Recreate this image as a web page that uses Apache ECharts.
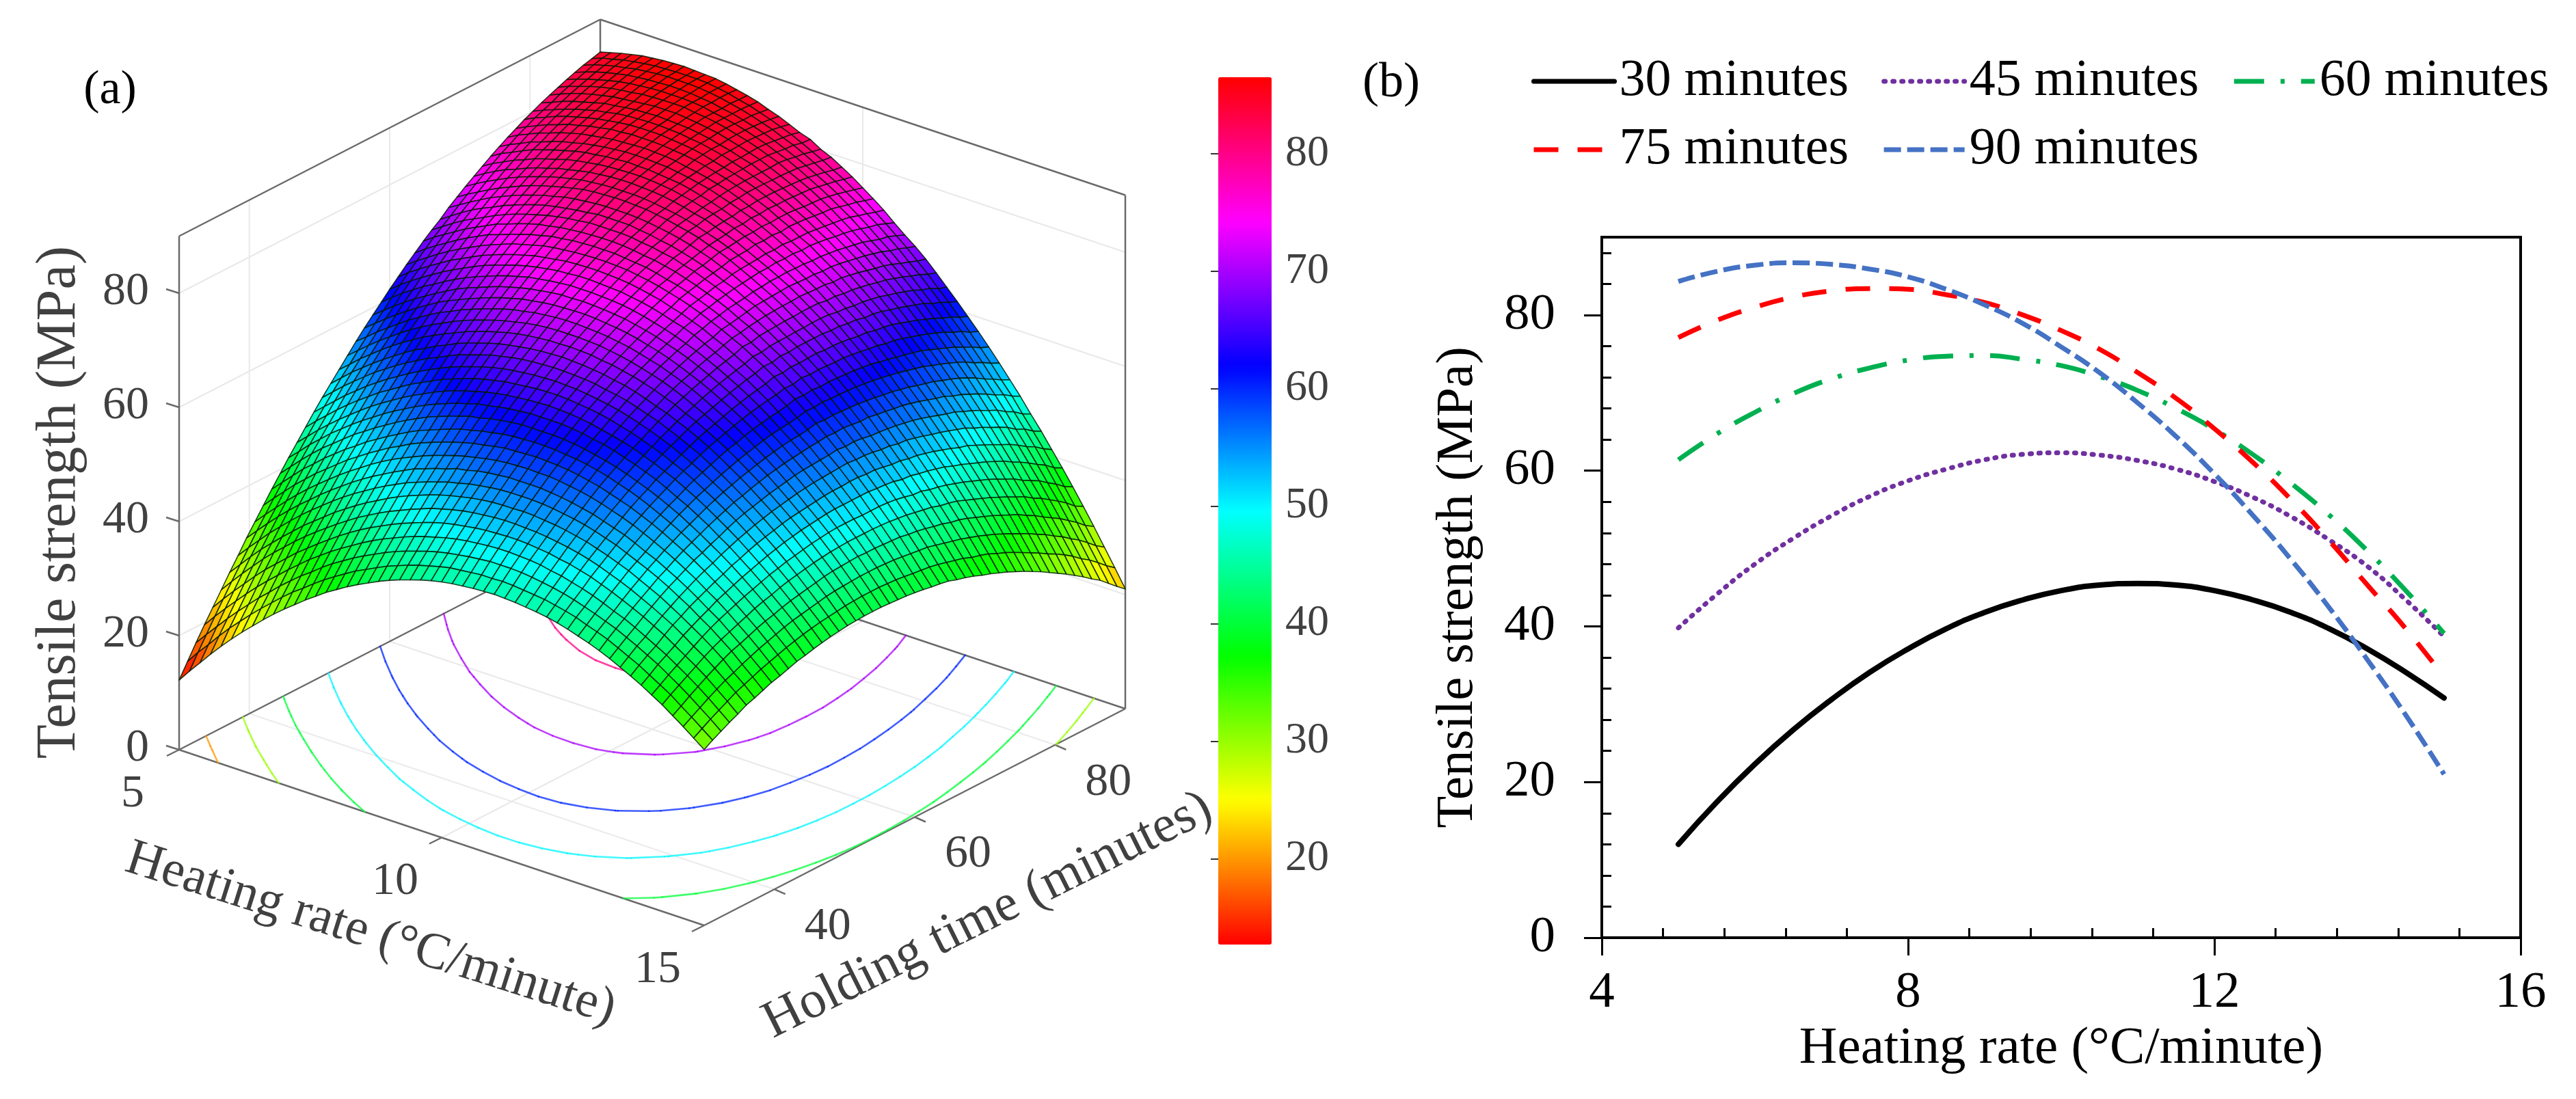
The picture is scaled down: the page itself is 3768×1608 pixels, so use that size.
<!DOCTYPE html>
<html><head><meta charset="utf-8">
<style>html,body{margin:0;padding:0;background:#fff}#c{width:3768px;height:1608px}</style>
<script src="https://cdn.jsdelivr.net/npm/echarts@6/dist/echarts.min.js"></script>
</head><body><div id="c"></div>
<script>
// ---------- panel (a) data: surface, in tenths of a MPa ----------
const surfaceHeating = [5,5.2,5.4,5.6,5.8,6,6.2,6.4,6.6,6.8,7,7.2,7.4,7.6,7.8,8,8.2,8.4,8.6,8.8,9,9.2,9.4,9.6,9.8,10,10.2,10.4,10.6,10.8,11,11.2,11.4,11.6,11.8,12,12.2,12.4,12.6,12.8,13,13.2,13.4,13.6,13.8,14,14.2,14.4,14.6,14.8,15];
const surfaceHolding = [30,31.2,32.4,33.6,34.8,36,37.2,38.4,39.6,40.8,42,43.2,44.4,45.6,46.8,48,49.2,50.4,51.6,52.8,54,55.2,56.4,57.6,58.8,60,61.2,62.4,63.6,64.8,66,67.2,68.4,69.6,70.8,72,73.2,74.4,75.6,76.8,78,79.2,80.4,81.6,82.8,84,85.2,86.4,87.6,88.8,90];
const surfaceStrengthTenths = [
[122,144,165,186,206,225,243,260,277,293,308,322,336,349,362,373,384,394,403,412,420,427,433,439,444,448,451,453,455,456,457,456,455,453,451,448,444,439,433,427,420,412,403,394,384,373,362,349,336,322,308],
[147,169,189,210,230,248,266,283,299,315,330,343,357,370,382,393,404,413,422,431,438,445,451,456,461,465,467,469,471,471,472,471,469,467,465,461,457,452,445,439,432,423,414,405,394,383,372,358,345,331,317],
[172,193,213,233,252,270,288,304,321,336,351,364,378,391,402,413,423,432,441,449,456,462,468,473,477,480,483,485,487,487,487,486,484,481,478,474,469,463,457,450,443,434,425,415,405,393,381,368,354,340,325],
[196,217,237,256,275,293,310,326,342,357,372,385,398,410,421,432,442,451,459,467,474,480,485,490,494,497,499,501,502,502,501,500,498,494,491,486,481,475,468,460,453,444,434,424,414,402,390,377,363,348,333],
[219,240,260,279,298,316,332,348,364,378,392,405,418,430,441,451,460,469,477,484,491,497,502,506,509,512,514,515,516,516,515,513,511,507,504,499,494,487,480,472,464,455,445,435,423,411,399,386,371,356,340],
[242,263,283,302,321,338,354,370,385,399,412,425,437,449,459,469,478,486,494,501,508,513,518,522,525,527,529,530,530,529,528,526,523,520,516,511,505,498,491,483,474,465,455,445,433,420,408,394,379,364,348],
[265,285,305,324,341,358,374,390,404,418,432,444,456,467,477,487,496,504,511,518,524,529,533,537,540,542,543,543,544,543,541,539,536,532,528,522,516,509,502,493,484,475,464,453,441,429,416,402,385,370,353],
[287,307,326,345,362,379,395,410,424,438,451,463,474,485,495,504,513,520,527,533,539,543,548,551,554,556,557,557,557,556,554,551,548,544,539,533,527,519,511,503,494,484,473,462,449,437,423,409,392,376,359],
[310,329,348,366,383,399,414,429,443,456,469,481,492,502,512,521,530,536,543,548,555,558,563,566,568,570,570,570,570,568,566,563,559,555,549,543,537,529,520,512,502,492,481,469,456,444,429,414,398,382,365],
[331,350,368,386,403,419,434,448,462,475,487,499,510,520,529,537,545,552,558,564,569,573,577,580,582,583,584,583,583,581,578,575,571,566,560,554,547,539,530,521,511,500,489,476,464,450,435,420,404,387,369],
[352,371,389,407,423,439,453,467,481,493,505,516,527,536,546,554,561,568,574,579,584,587,591,594,595,596,597,596,595,593,590,586,582,576,570,564,556,548,539,529,519,508,496,483,470,456,441,426,409,392,374],
[373,391,409,427,442,458,472,486,498,511,522,533,543,553,562,569,576,583,589,593,598,601,605,607,608,609,609,608,606,604,601,597,592,586,580,573,565,556,547,537,526,514,502,489,476,462,447,431,414,397,379],
[393,411,429,446,462,476,490,504,516,528,539,550,560,569,578,585,592,598,604,607,612,615,618,620,620,620,620,619,617,614,610,606,601,595,588,581,573,564,555,544,533,521,509,496,482,467,452,435,419,401,382],
[413,430,448,464,480,494,508,521,533,545,556,566,576,585,593,600,607,612,618,621,625,628,630,632,632,632,632,630,628,624,621,616,610,604,597,590,581,571,562,551,540,527,515,501,487,472,456,440,423,405,386],
[432,449,466,482,497,511,525,538,550,561,572,582,591,600,608,615,621,626,631,635,638,640,642,643,644,643,642,640,637,633,629,624,619,612,605,597,589,579,569,558,546,534,521,507,492,477,461,444,426,408,389],
[451,468,484,500,515,529,542,555,566,577,588,597,606,615,622,629,635,640,644,648,650,652,654,655,655,654,652,650,647,643,638,633,627,620,613,604,596,586,575,564,552,540,526,512,497,481,465,447,429,411,392],
[470,486,502,518,532,546,559,571,582,593,603,612,621,629,636,642,648,653,657,660,662,664,665,666,665,664,662,659,656,652,647,641,635,628,620,611,602,592,581,570,558,545,531,516,501,485,468,450,432,413,394],
[488,504,520,535,549,563,575,587,598,608,618,626,635,643,649,655,661,665,669,672,674,675,676,676,675,674,672,668,665,661,655,649,643,635,627,618,609,598,587,575,562,549,535,520,505,488,471,453,435,415,396],
[505,521,537,551,565,578,590,602,613,622,632,640,649,656,662,668,673,677,680,683,685,686,687,686,685,683,681,677,674,669,663,656,650,642,634,625,615,604,592,580,567,553,539,524,508,491,474,456,437,417,397],
[522,537,553,567,581,594,606,617,628,637,646,654,662,669,675,680,685,689,692,694,696,696,697,696,695,692,690,686,682,677,671,664,657,648,640,630,620,609,597,584,571,557,542,527,511,494,476,458,438,418,398],
[539,554,569,583,596,609,621,632,642,651,660,668,675,681,687,692,696,700,703,705,706,706,706,705,704,701,698,694,689,684,678,671,663,654,645,635,625,613,601,588,575,560,545,529,513,496,478,459,439,419,398],
[556,570,585,598,611,624,635,646,656,664,673,680,687,693,699,704,707,711,713,715,716,716,715,714,712,709,706,701,696,691,684,677,669,660,650,640,630,618,605,592,578,563,548,531,515,498,479,460,440,419,398],
[572,586,600,613,626,638,649,660,669,677,685,692,699,705,710,715,718,721,723,724,725,725,724,722,720,717,713,708,703,697,690,682,674,665,655,645,634,622,609,595,581,566,550,533,517,499,480,461,440,419,397],
[587,601,615,628,640,651,662,672,682,690,697,704,711,716,721,725,728,731,733,733,734,733,732,730,728,724,720,715,709,703,696,688,679,670,660,649,638,625,612,598,583,568,552,535,518,499,480,460,440,418,396],
[602,616,630,642,654,664,675,685,694,702,709,716,722,727,732,735,738,740,742,742,742,741,740,738,735,731,726,721,715,708,701,693,684,674,664,653,641,628,614,600,585,569,553,536,518,499,480,460,439,417,395],
[617,631,644,656,667,678,688,697,706,714,721,727,733,738,742,745,748,749,751,751,750,749,748,745,742,738,733,727,722,715,706,697,688,678,668,656,644,630,616,601,587,570,554,536,518,498,480,459,438,415,393],
[631,645,657,669,680,691,700,709,718,725,732,738,743,748,751,754,757,758,759,759,758,757,755,752,748,744,738,733,726,719,710,702,692,682,671,659,646,633,618,603,588,571,555,537,518,498,479,458,436,413,391],
[645,658,670,682,693,703,712,721,729,736,743,748,753,758,761,763,765,766,767,767,766,765,762,759,755,750,745,739,732,724,716,707,698,687,676,664,650,637,622,607,590,573,556,537,518,498,478,457,434,411,388],
[658,671,683,694,705,715,724,733,739,746,752,758,762,767,769,772,773,774,774,774,772,770,768,764,759,755,749,742,735,727,718,709,698,687,675,663,649,636,621,605,589,571,554,535,516,497,476,454,432,409,386],
[671,684,695,706,717,726,735,744,750,757,763,768,771,775,777,779,780,781,781,780,778,775,773,769,765,759,753,746,739,731,721,712,702,690,679,666,653,638,623,606,590,572,554,535,515,495,474,452,430,406,383],
[683,695,707,718,727,736,745,753,760,766,771,776,780,783,785,788,788,788,788,787,784,782,778,775,769,764,757,750,742,733,724,714,703,691,678,665,651,636,621,605,588,570,552,532,513,492,471,449,426,402,378],
[694,706,718,729,738,746,755,762,769,775,780,784,787,790,792,795,795,795,795,792,790,786,783,778,773,767,760,752,745,735,727,716,704,691,680,666,652,637,621,604,586,567,549,529,509,488,468,445,422,398,374],
[707,718,729,739,749,757,765,772,778,784,788,793,796,798,800,801,801,801,800,798,795,792,788,783,777,771,763,756,747,738,728,717,705,692,680,667,651,636,620,603,586,566,548,528,508,487,465,442,418,394,369],
[718,729,739,749,758,766,774,781,787,792,797,801,805,807,808,809,809,808,807,804,801,797,793,788,781,775,767,758,749,739,729,718,705,692,680,665,650,635,619,601,583,564,544,524,504,482,460,437,414,388,363],
[729,740,750,759,768,776,783,789,795,800,804,808,810,812,813,813,813,812,810,807,804,800,795,789,783,776,768,759,751,741,730,718,706,693,680,665,650,634,617,599,581,562,543,522,501,479,457,434,409,384,358],
[739,750,760,769,776,784,791,796,802,806,810,814,816,818,819,819,818,817,815,812,808,803,799,792,785,778,769,760,751,741,731,719,706,693,678,664,648,632,615,596,578,559,539,518,497,475,453,429,404,379,352],
[749,760,769,778,785,793,799,804,810,814,817,820,822,823,824,824,823,821,819,815,811,806,801,794,788,780,772,762,753,742,730,718,706,692,678,662,646,630,612,594,576,556,535,514,493,470,447,423,398,372,346],
[759,770,778,787,795,801,807,812,817,821,823,826,827,829,828,828,826,824,822,818,813,808,802,795,788,780,771,761,752,741,729,717,703,689,675,659,643,626,609,590,572,552,530,509,487,465,441,417,392,366,339],
[768,778,786,795,801,808,814,818,823,826,829,831,833,833,833,832,831,828,825,821,817,811,805,798,791,782,773,763,753,741,729,717,703,688,674,658,641,623,606,587,568,547,526,504,482,459,435,411,385,359,332],
[777,787,795,803,809,816,821,826,829,832,835,836,837,838,837,836,834,830,827,823,818,813,806,798,790,781,771,761,751,739,727,714,700,685,670,654,637,619,602,582,563,542,521,498,476,453,429,404,378,351,324],
[785,794,802,810,816,823,827,832,835,839,840,842,842,842,841,839,837,834,830,825,820,814,808,800,792,782,773,761,752,739,727,714,699,684,669,652,635,616,598,578,558,537,516,494,470,447,422,397,370,343,316],
[793,802,809,817,823,828,833,837,840,843,845,846,846,846,844,842,840,836,831,826,821,815,808,800,791,782,772,761,750,737,725,711,696,681,666,649,631,612,594,574,554,533,511,487,464,440,415,390,363,335,307],
[800,808,815,822,828,833,838,841,845,847,848,849,849,848,847,844,842,838,834,828,822,815,808,800,791,781,771,759,748,735,722,708,693,678,661,644,626,608,588,568,547,526,503,480,457,432,407,381,354,326,298],
[807,814,822,828,833,838,843,845,848,850,851,852,851,850,849,846,843,838,834,828,823,815,807,799,790,779,769,757,745,732,719,704,689,673,657,639,621,602,583,563,542,520,497,473,450,425,400,373,346,318,289],
[813,821,828,834,839,843,847,849,851,853,855,855,855,853,851,848,845,840,835,829,823,815,807,798,789,778,767,755,743,729,716,700,686,669,652,634,616,596,577,557,535,513,489,465,441,415,390,363,336,309,279],
[819,827,833,839,844,848,851,853,856,857,858,858,858,855,853,850,846,841,836,830,823,816,806,797,788,777,766,753,740,726,712,697,681,664,647,628,610,590,571,550,528,505,482,458,433,407,382,354,327,299,269],
[825,832,838,843,848,852,855,857,859,860,860,860,859,857,853,850,846,841,835,829,821,814,805,795,785,774,762,750,736,721,708,692,676,659,642,622,604,584,564,542,520,498,474,449,424,399,372,345,316,287,258],
[830,837,843,848,852,856,858,860,861,862,862,861,859,857,853,850,845,840,834,827,819,811,802,792,782,771,758,745,731,716,702,686,670,652,634,615,596,576,555,533,511,488,463,439,414,388,362,334,306,277,248],
[835,842,847,852,855,859,861,863,864,864,864,863,861,858,854,850,845,839,833,825,818,809,799,789,779,767,755,741,728,713,698,681,665,647,629,609,590,569,548,525,504,480,456,431,405,378,351,323,294,265,235],
[839,846,850,855,858,861,863,864,865,865,865,864,861,858,853,849,843,837,830,823,814,805,796,785,775,763,750,736,722,707,692,675,658,639,621,601,581,560,539,516,494,469,445,420,393,366,338,310,281,252,222],
[843,848,853,857,861,863,865,866,867,866,865,864,861,857,853,848,841,835,827,819,813,802,794,783,772,759,746,732,716,701,687,671,653,634,615,595,575,554,532,509,486,461,437,411,385,358,330,301,271,241,210]
];
const surfaceStrength = surfaceStrengthTenths.map(r=>r.map(v=>v/10));
const heatingTicks3d = [5,10,15];
const holdingTicks3d = [40,60,80];
const strengthTicks3d = [0,20,40,60,80];
const contourLevels = [20,30,40,50,60,70,80];
const colorbarTicks = [20,30,40,50,60,70,80];
const colorbarRange = [12.7,86.5];
const hsvStops = ['#ff0000','#ffff00','#00ff00','#00ffff','#0000ff','#ff00ff','#ff0000'];

// ---------- panel (b) data ----------
const heatingRates = [5,5.5,6,6.5,7,7.5,8,8.5,9,9.5,10,10.5,11,11.5,12,12.5,13,13.5,14,14.5,15];
const min30 = [12.0,17.4,22.3,26.7,30.6,34.1,37.1,39.7,41.8,43.4,44.6,45.3,45.5,45.3,44.6,43.4,41.8,39.7,37.1,34.1,30.8];
const min45 = [39.8,44.1,48.0,51.3,54.2,56.7,58.7,60.2,61.4,62.1,62.3,62.0,61.3,60.2,58.6,56.6,54.1,51.1,47.7,43.4,38.7];
const min60 = [61.4,64.7,67.5,69.9,71.8,73.2,74.2,74.7,74.8,74.3,73.5,72.1,70.3,68.0,65.3,62.1,58.4,54.3,49.7,44.6,39.1];
const min75 = [77.1,79.3,81.0,82.3,83.1,83.4,83.3,82.6,81.6,80.0,78.0,75.6,72.6,69.3,65.4,61.1,56.3,51.0,45.3,39.7,33.5];
const min90 = [84.3,85.6,86.4,86.7,86.5,85.9,84.9,83.3,81.3,78.9,75.9,72.6,68.7,64.4,59.6,54.3,48.6,42.4,35.7,28.6,21.0];
const heatingMinor = [4.8,5.6,6.4,7.2,8.8,9.6,10.4,11.2,12.8,13.6,14.4,15.2];
const strengthMinor = [4,8,12,16,24,28,32,36,44,48,52,56,64,68,72,76,84,88];

// ---------- layout of the 3-D box (screen vectors of its three axes) ----------
const box = {ox:262, oy:1097, hx:768, hy:257, tx:616, ty:-317, zs:8.35, zMax:90};
const serif = '"Liberation Serif","Times New Roman",serif';
const hMin = surfaceHeating[0], hMax = surfaceHeating[surfaceHeating.length-1];
const tMin = surfaceHolding[0], tMax = surfaceHolding[surfaceHolding.length-1];
function project(h,t,z){
  const u=(h-hMin)/(hMax-hMin), v=(t-tMin)/(tMax-tMin);
  return [box.ox+u*box.hx+v*box.tx, box.oy+u*box.hy+v*box.ty-z*box.zs];
}
function seg(a,b,stroke,w){
  return {type:'line',silent:true,shape:{x1:a[0],y1:a[1],x2:b[0],y2:b[1]},style:{stroke:stroke,lineWidth:w,fill:null}};
}
function label(txt,p,align,size){
  return {type:'text',silent:true,x:p[0],y:p[1],style:{text:String(txt),fontFamily:serif,fontSize:size,fill:'#404040',align:align,verticalAlign:'middle'}};
}
function renderFrame(){
  const kids=[], grid='#e9e9e9', edge='#6a6a6a';
  strengthTicks3d.slice(1).forEach(z=>{
    kids.push(seg(project(hMin,tMin,z),project(hMin,tMax,z),grid,2));
    kids.push(seg(project(hMin,tMax,z),project(hMax,tMax,z),grid,2));
  });
  holdingTicks3d.forEach(t=>{
    kids.push(seg(project(hMin,t,0),project(hMin,t,box.zMax),grid,2));
    kids.push(seg(project(hMin,t,0),project(hMax,t,0),grid,2));
  });
  heatingTicks3d.slice(1,2).forEach(h=>{
    kids.push(seg(project(h,tMax,0),project(h,tMax,box.zMax),grid,2));
    kids.push(seg(project(h,tMin,0),project(h,tMax,0),grid,2));
  });
  const Z=box.zMax;
  [[hMin,tMin,0,hMin,tMin,Z],[hMin,tMax,0,hMin,tMax,Z],[hMax,tMax,0,hMax,tMax,Z],
   [hMin,tMin,Z,hMin,tMax,Z],[hMin,tMax,Z,hMax,tMax,Z],
   [hMin,tMin,0,hMax,tMin,0],[hMax,tMin,0,hMax,tMax,0],[hMin,tMin,0,hMin,tMax,0],[hMin,tMax,0,hMax,tMax,0]]
  .forEach(e=>kids.push(seg(project(e[0],e[1],e[2]),project(e[3],e[4],e[5]),edge,2.5)));
  strengthTicks3d.forEach(z=>{
    const p=project(hMin,tMin,z);
    kids.push(seg(p,[p[0]-19,p[1]-6],edge,2.5));
    kids.push(label(z,[p[0]-44,p[1]-2],'right',68));
  });
  heatingTicks3d.forEach(h=>{
    const p=project(h,tMin,0);
    kids.push(seg(p,[p[0]-18,p[1]+9],edge,2.5));
    kids.push(label(h,[p[0]-68,p[1]+65],'center',68));
  });
  holdingTicks3d.forEach(t=>{
    const p=project(hMax,t,0);
    kids.push(seg(p,[p[0]+16,p[1]+7],edge,2.5));
    kids.push(label(t,[p[0]+78,p[1]+55],'center',68));
  });
  return {type:'group',children:kids};
}
function contourSegments(level){
  const out=[], S=surfaceStrength, H=surfaceHeating, T=surfaceHolding;
  const cross=(h0,t0,v0,h1,t1,v1)=>{const f=(level-v0)/(v1-v0);return [h0+f*(h1-h0),t0+f*(t1-t0)];};
  for(let j=0;j<T.length-1;j+=2)for(let i=0;i<H.length-1;i+=2){
    const a=S[j][i],b=S[j][i+2],c=S[j+2][i+2],d=S[j+2][i],pts=[];
    if((a<level)!==(b<level))pts.push(cross(H[i],T[j],a,H[i+2],T[j],b));
    if((b<level)!==(c<level))pts.push(cross(H[i+2],T[j],b,H[i+2],T[j+2],c));
    if((c<level)!==(d<level))pts.push(cross(H[i+2],T[j+2],c,H[i],T[j+2],d));
    if((d<level)!==(a<level))pts.push(cross(H[i],T[j+2],d,H[i],T[j],a));
    for(let k=0;k+1<pts.length;k+=2)out.push([pts[k],pts[k+1]]);
  }
  return out;
}
function renderContour(params,api){
  const level=api.value(2), stroke=api.visual('color');
  return {type:'group',children:contourSegments(level).map(s=>({
    type:'line',silent:true,
    shape:(()=>{const a=project(s[0][0],s[0][1],0),b=project(s[1][0],s[1][1],0);return {x1:a[0],y1:a[1],x2:b[0],y2:b[1]};})(),
    style:{stroke:stroke,lineWidth:2.6,lineCap:'round',fill:null,opacity:0.75}
  }))};
}
function renderCell(params,api){
  const i=api.value(0), j=api.value(1), S=surfaceStrength, H=surfaceHeating, T=surfaceHolding;
  return {type:'polygon',silent:true,
    shape:{points:[project(H[i],T[j],S[j][i]),project(H[i+1],T[j],S[j][i+1]),project(H[i+1],T[j+1],S[j+1][i+1]),project(H[i],T[j+1],S[j+1][i])]},
    style:{fill:api.visual('color'),stroke:'rgba(0,25,0,0.82)',lineWidth:1.6,lineJoin:'round'}};
}
const cellData=[];
for(let j=surfaceHolding.length-2;j>=0;j--)for(let i=0;i<surfaceHeating.length-1;i++){
  const S=surfaceStrength;
  cellData.push([i,j,(S[j][i]+S[j][i+1]+S[j+1][i]+S[j+1][i+1])/4]);
}
const pairs=v=>heatingRates.map((h,i)=>[h,v[i]]);
function lineSeries(name,v,color,type,cap,w){
  return {name:name,type:'line',xAxisIndex:0,yAxisIndex:0,data:pairs(v),smooth:true,symbol:'none',animation:false,
    lineStyle:{color:color,width:w,type:type,cap:cap},itemStyle:{color:color}};
}
const tickFont={fontFamily:serif,fontSize:75,color:'#000'};
const nameFont={fontFamily:serif,fontSize:77,color:'#000'};
const titleText=(txt,x,y,rot,size,fill)=>({type:'text',silent:true,x:x,y:y,rotation:rot*Math.PI/180,
  style:{text:txt,fontFamily:serif,fontSize:size,fill:fill||'#404040',align:'center',verticalAlign:'middle'}});
const legendBase={padding:0,itemWidth:118,itemHeight:30,itemGap:48,itemStyle:{opacity:0},lineStyle:{width:7},
  textStyle:{fontFamily:serif,fontSize:76,color:'#000',lineHeight:74,padding:[0,0,0,2]}};

const chart=echarts.init(document.getElementById('c'),null,{renderer:'canvas',devicePixelRatio:1});
chart.setOption({
  animation:false,backgroundColor:'#fff',
  visualMap:{type:'continuous',seriesIndex:[1,2],dimension:2,min:colorbarRange[0],max:colorbarRange[1],
    left:1782,top:113,itemWidth:78,itemHeight:1269,padding:0,calculable:false,hoverLink:false,text:null,
    inRange:{color:hsvStops},orient:'vertical',z:1,textStyle:{color:'transparent',fontSize:1}},
  grid:[
    {left:2343,top:347,width:1344,height:1025,show:true,borderColor:'#000',borderWidth:4,backgroundColor:'transparent'},
    {left:1782,top:113,width:78,height:1269,show:false}
  ],
  xAxis:[
    {gridIndex:0,type:'value',min:4,max:16,interval:4,position:'bottom',axisLine:{onZero:false,lineStyle:{color:'#000',width:4}},
     axisTick:{length:26,lineStyle:{color:'#000',width:3}},splitLine:{show:false},
     axisLabel:Object.assign({margin:44},tickFont),name:'Heating rate (°C/minute)',nameLocation:'middle',nameGap:124,nameTextStyle:nameFont},
    {gridIndex:0,type:'value',min:4,max:16,interval:0.8,position:'bottom',axisLine:{show:false},
     axisTick:{show:true,inside:true,length:14,customValues:heatingMinor,lineStyle:{color:'#000',width:3}},axisLabel:{show:false},splitLine:{show:false}},
    {gridIndex:1,type:'value',min:0,max:1,show:false}
  ],
  yAxis:[
    {gridIndex:0,type:'value',min:0,max:90,interval:20,position:'left',axisLine:{onZero:false,lineStyle:{color:'#000',width:4}},
     axisTick:{length:26,lineStyle:{color:'#000',width:3}},splitLine:{show:false},
     axisLabel:Object.assign({margin:68,showMaxLabel:false},tickFont),name:'Tensile strength (MPa)',nameLocation:'middle',nameGap:172,nameTextStyle:nameFont},
    {gridIndex:0,type:'value',min:0,max:90,interval:4,position:'left',axisLine:{show:false},
     axisTick:{show:true,inside:true,length:14,customValues:strengthMinor,lineStyle:{color:'#000',width:3}},axisLabel:{show:false},splitLine:{show:false}},
    {gridIndex:1,type:'value',min:colorbarRange[0],max:colorbarRange[1],position:'right',z:10,axisLine:{show:false},
     axisTick:{show:true,inside:true,length:11,customValues:colorbarTicks,lineStyle:{color:'#333',width:2}},
     axisLabel:{customValues:colorbarTicks,margin:20,fontFamily:serif,fontSize:64,color:'#404040'},splitLine:{show:false}}
  ],
  legend:[
    Object.assign({left:2240,top:81,data:['30 minutes','45 minutes','60 minutes']},legendBase),
    Object.assign({left:2240,top:181,data:['75 minutes','90 minutes']},legendBase)
  ],
  graphic:{elements:[
    titleText('(a)',161,133,0,70,'#000'),
    titleText('(b)',2035,122,0,72,'#000'),
    titleText('Tensile strength (MPa)',87,735,90,82),
    titleText('Heating rate (°C/minute)',542,1367,-17.5,75),
    titleText('Holding time (minutes)',1445,1340,26.5,77)
  ]},
  series:[
    {type:'custom',coordinateSystem:'none',silent:true,data:[[0]],renderItem:renderFrame,z:1,animation:false},
    {type:'custom',coordinateSystem:'none',silent:true,data:contourLevels.map((l,k)=>[k,0,l]),renderItem:renderContour,z:2,animation:false},
    {type:'custom',coordinateSystem:'none',silent:true,data:cellData,renderItem:renderCell,z:3,animation:false,progressive:0},
    lineSeries('30 minutes',min30,'#000000','solid','round',8),
    lineSeries('45 minutes',min45,'#7030a0',[2,11],'round',7),
    lineSeries('60 minutes',min60,'#00b050',[44,24,6,24],'butt',7),
    lineSeries('75 minutes',min75,'#ff0000',[36,28],'butt',7),
    lineSeries('90 minutes',min90,'#4472c4',[25,9],'butt',7)
  ]
});
</script></body></html>
